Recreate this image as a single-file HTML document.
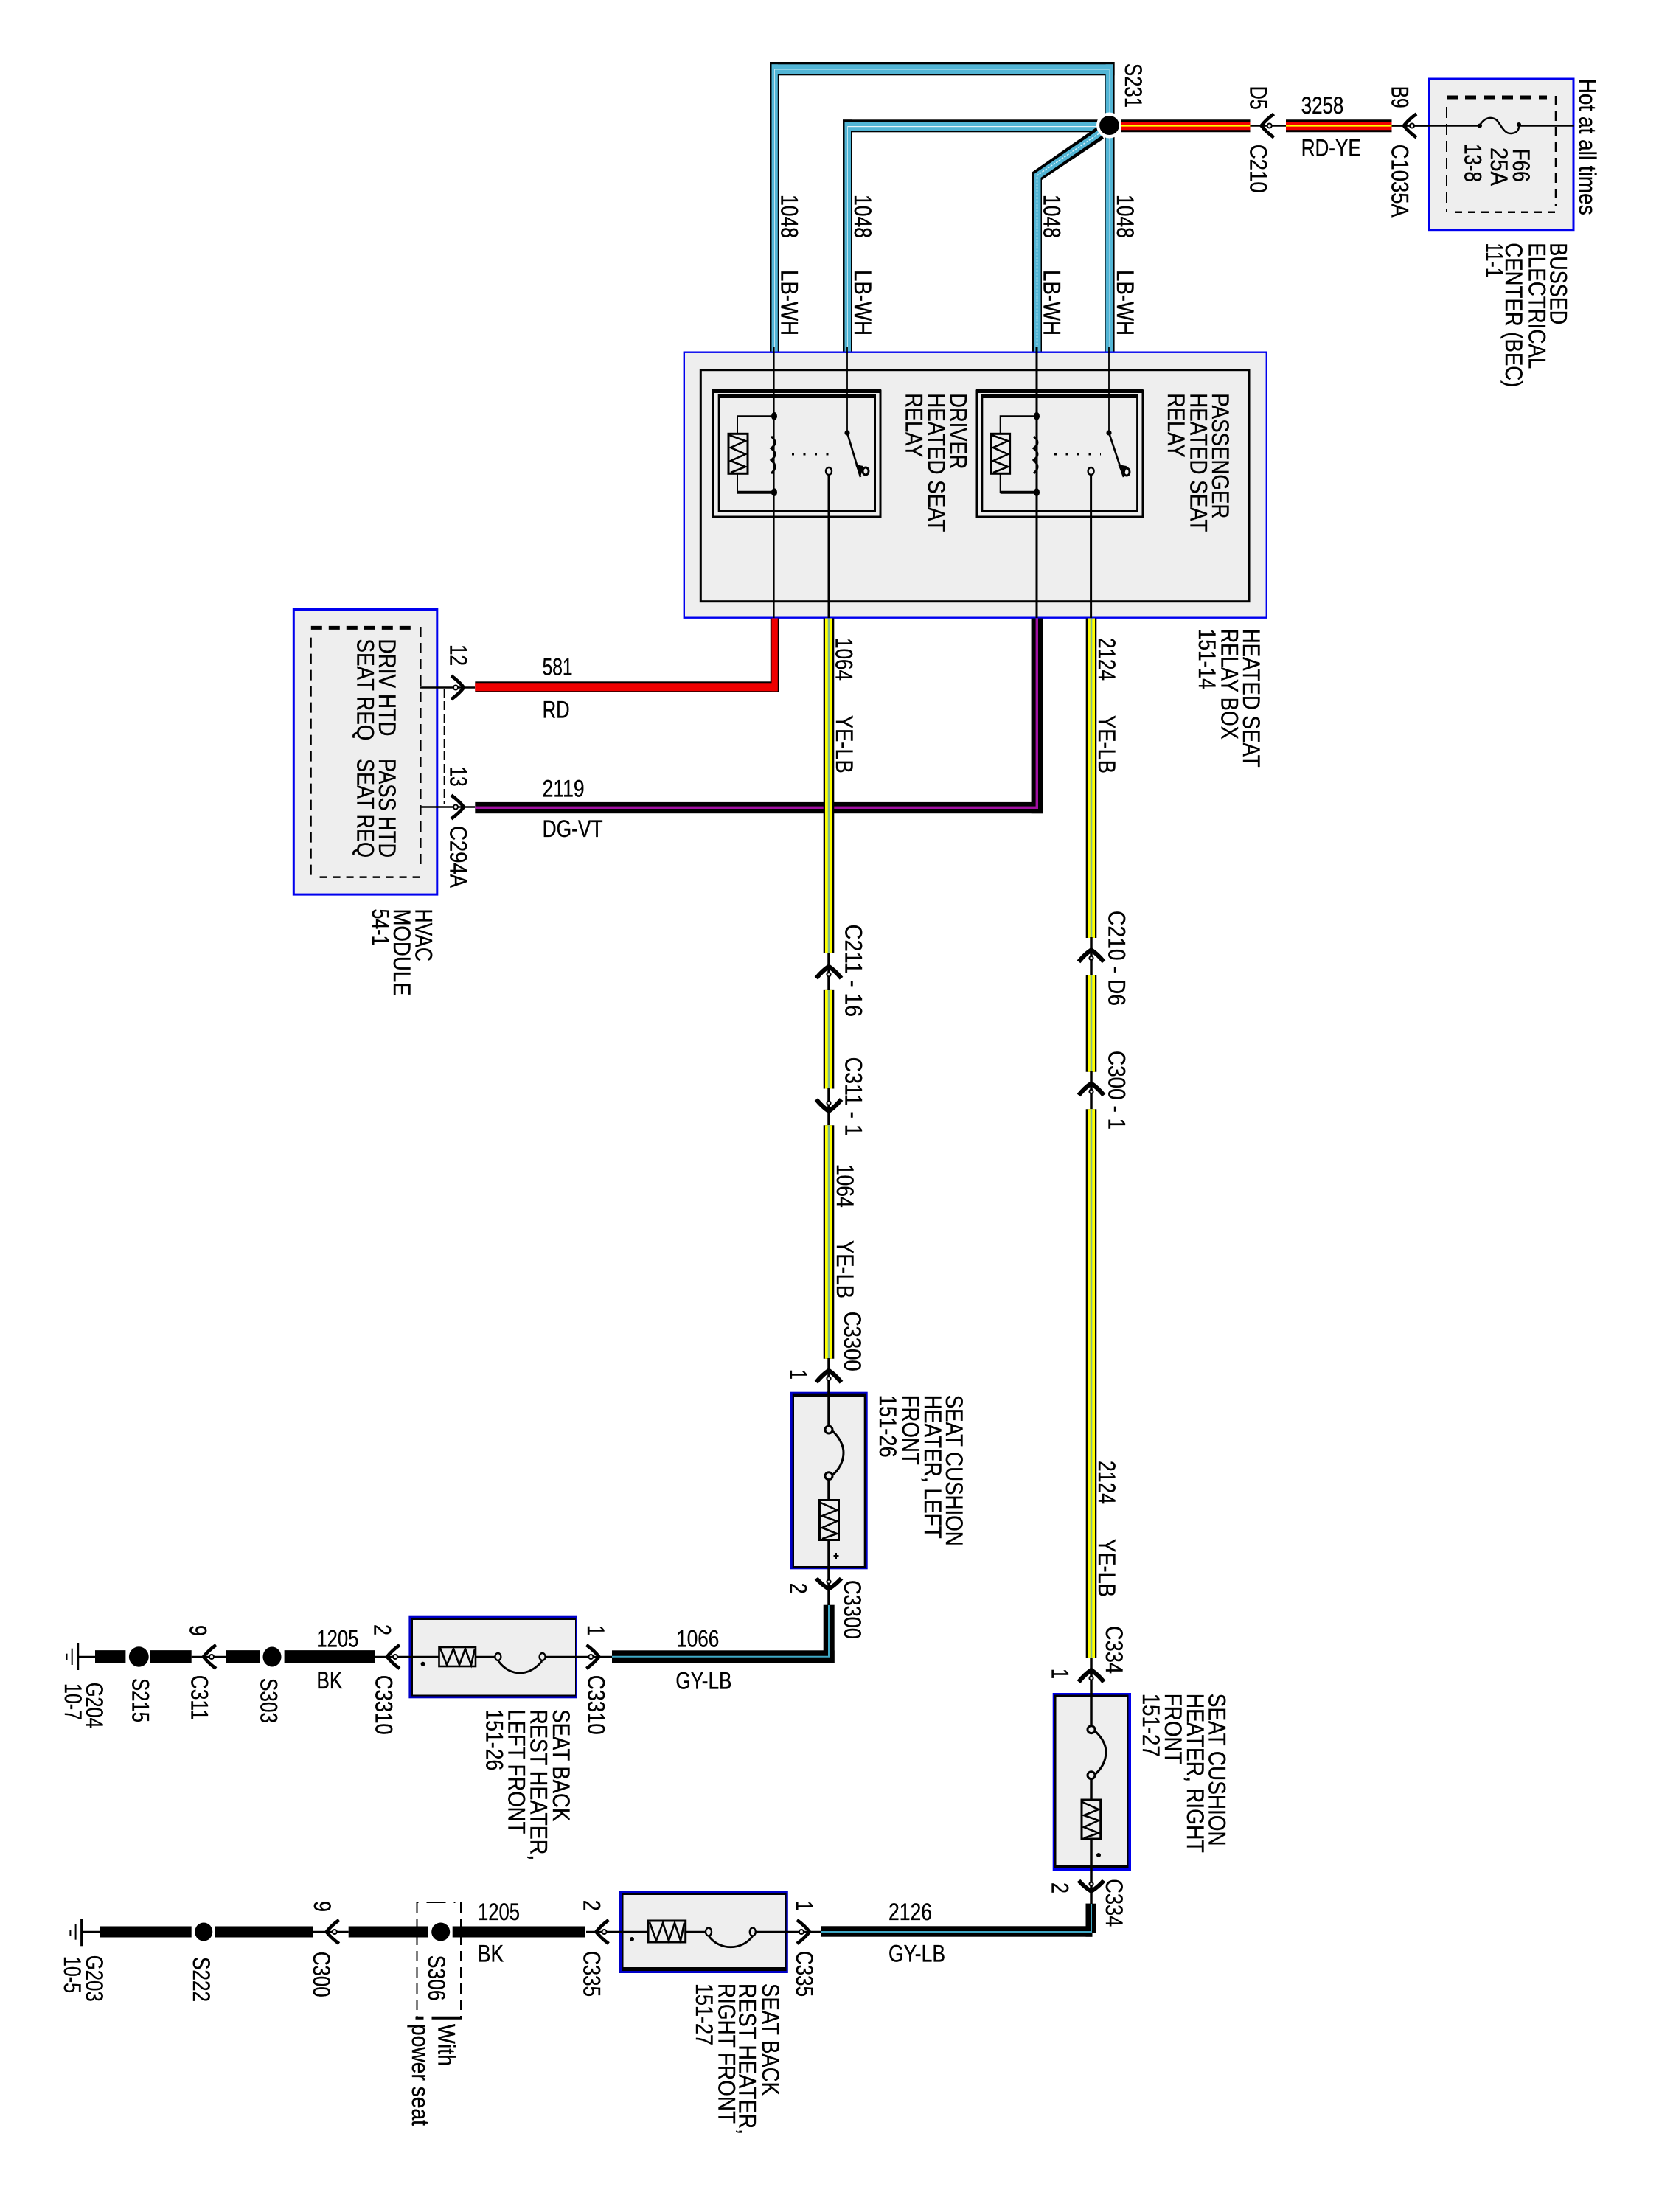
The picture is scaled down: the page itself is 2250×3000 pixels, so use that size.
<!DOCTYPE html>
<html><head><meta charset="utf-8"><title>Heated seat wiring diagram</title>
<style>
html,body{margin:0;padding:0;background:#fff}
svg{display:block}
text{font-family:"Liberation Sans",sans-serif;font-size:32px;fill:#000;stroke:#000;stroke-width:.35px}
.n{fill:none;stroke:#000}
</style></head><body>
<svg xmlns="http://www.w3.org/2000/svg" width="2250" height="3000" viewBox="0 0 2250 3000">
<defs>
<g id="cn"><path d="M17,-16 Q6,-8 0,0 Q6,8 17,16" fill="none" stroke="#000" stroke-width="4.6"/><circle cx="11" cy="0" r="3" fill="#eee" stroke="#000" stroke-width="2"/></g>
<g id="cv"><path d="M16,-17 Q6,-9 0,0 Q6,9 16,17" fill="none" stroke="#000" stroke-width="6"/><circle cx="11" cy="0" r="2.6" fill="#eee" stroke="#000" stroke-width="2"/></g>
</defs>
<rect width="2250" height="3000" fill="#fff"/>

<!-- LB-WH wires -->
<g>
<rect x="1044" y="84" width="467.6" height="18.3" fill="#000"/>
<rect x="1044" y="84" width="12.3" height="393" fill="#000"/>
<rect x="1498" y="84" width="13.6" height="393" fill="#000"/>
<rect x="1046.5" y="87.3" width="462.5" height="13.4" fill="#52b5d5"/>
<rect x="1046.5" y="87.3" width="8.3" height="390" fill="#52b5d5"/>
<rect x="1499.6" y="87.3" width="9.4" height="390" fill="#52b5d5"/>
<rect x="1050" y="93" width="454" height="1.4" fill="#e6f5fa"/>
<rect x="1050" y="93" width="1" height="384" fill="#bfe4f0"/>
<rect x="1504.5" y="93" width="1" height="384" fill="#bfe4f0"/>

<rect x="1143" y="162.3" width="350" height="17" fill="#000"/>
<rect x="1143" y="162.3" width="12.4" height="315" fill="#000"/>
<rect x="1145.5" y="165.5" width="350" height="12" fill="#52b5d5"/>
<rect x="1145.5" y="165.5" width="8.5" height="312" fill="#52b5d5"/>
<rect x="1149" y="171" width="345" height="1.2" fill="#e6f5fa"/>
<rect x="1149" y="171" width="1" height="306" fill="#bfe4f0"/>

<polygon points="1400,233.3 1488,172 1497,188 1413,244 1413,477 1400,477" fill="#000"/>
<polygon points="1402.5,236 1490,176 1494,184 1411.5,241 1411.5,477 1402.5,477" fill="#52b5d5"/>
<path d="M1406.5,477V238L1492,180" fill="none" stroke="#d8f0f8" stroke-width="1.5" stroke-dasharray="3 1.5"/>
</g>

<!-- splice -->
<circle cx="1504.5" cy="170" r="17.5" fill="#fff"/>
<ellipse cx="1504.5" cy="170" rx="13.4" ry="13" fill="#000"/>

<!-- 3258 wires -->
<g>
<path d="M1521,170.8H1695.5M1744,170.8H1887.5" stroke="#000" stroke-width="17" fill="none"/>
<path d="M1521,170.8H1695.5M1744,170.8H1887.5" stroke="#f00000" stroke-width="11" fill="none"/>
<path d="M1521,170.3H1695.5M1744,170.3H1887.5" stroke="#ffff00" stroke-width="2.6" fill="none"/>
<path d="M1695.5,170.5H1744M1887.5,170.5H2006.7M2060.3,170.5H2134.8" class="n" stroke-width="2.5"/>
</g>

<!-- BEC -->
<rect x="1938.5" y="107" width="195.5" height="204.7" fill="#eee" stroke="#0000ee" stroke-width="3"/>
<path d="M1962,132H2098" class="n" stroke-width="5" stroke-dasharray="15 10"/>
<path d="M2110,130V280" class="n" stroke-width="2.5" stroke-dasharray="13 8"/>
<path d="M1973,287.7H2111" class="n" stroke-width="2.5" stroke-dasharray="10 8"/>
<path d="M1962,145V288" class="n" stroke-width="2" stroke-dasharray="15 8"/>
<path d="M1887.5,170.5H2006.7M2060.3,170.5H2134.8" class="n" stroke-width="2.5"/>
<path d="M2006.7,170.5 C2012,160 2022,157 2030,163 C2036,170 2040,182 2050,181 C2058,180 2060,176 2060.3,170" class="n" stroke-width="2.5"/>
<circle cx="2007" cy="170.5" r="3" fill="#000"/><circle cx="2060" cy="169" r="3" fill="#000"/>
<use href="#cn" transform="translate(1710.7,170.5)"/>
<use href="#cn" transform="translate(1904,170.5)"/>

<!-- Relay box -->
<rect x="927.8" y="477.7" width="790" height="360" fill="#eee" stroke="#0000ee" stroke-width="2.4"/>
<rect x="950.3" y="501.7" width="743.7" height="314" fill="none" stroke="#000" stroke-width="3"/>
<!-- driver relay -->
<rect x="967" y="530" width="227" height="171" fill="none" stroke="#000" stroke-width="3"/>
<rect x="966" y="528" width="229" height="5" fill="#000"/>
<rect x="975" y="536" width="211.7" height="157.3" fill="none" stroke="#000" stroke-width="2.6"/>
<rect x="975" y="535" width="211.7" height="5" fill="#000"/>
<!-- passenger relay -->
<rect x="1325" y="530" width="225" height="171" fill="none" stroke="#000" stroke-width="3"/>
<rect x="1324" y="528" width="226.5" height="5" fill="#000"/>
<rect x="1332" y="536" width="210.4" height="157.3" fill="none" stroke="#000" stroke-width="2.6"/>
<rect x="1332" y="535" width="210.4" height="5" fill="#000"/>

<!-- driver relay internals -->
<path d="M1049.7,470V838" class="n" stroke-width="1.8"/>
<path d="M1149,470V586.7" class="n" stroke-width="1.8"/>
<path d="M1124,644V838" class="n" stroke-width="3"/>
<path d="M1049.7,564.3H1000V667.7H1049.7" class="n" stroke-width="2"/>
<path d="M1000,667.7H1049.7" class="n" stroke-width="4"/>
<rect x="988" y="588.3" width="26" height="54" fill="#eee" stroke="#000" stroke-width="3"/>
<polyline points="989,590 1011,598 991,607 1011,616 991,625 1011,633 991,641" class="n" stroke-width="2.6"/>
<path d="M1046,592 q10,8 0,16 q10,8 0,16 q10,9 0,18" class="n" stroke-width="3"/>
<ellipse cx="1050" cy="564.3" rx="4" ry="5.4" fill="#000"/><ellipse cx="1050" cy="667.7" rx="4" ry="5.4" fill="#000"/>
<path d="M1074,616H1137" class="n" stroke-width="3" stroke-dasharray="3 12.5"/>
<circle cx="1149" cy="587" r="3.6" fill="#000"/>
<path d="M1149,587L1167,647" class="n" stroke-width="2.6"/>
<ellipse cx="1124" cy="639" rx="4" ry="5" fill="#eee" stroke="#000" stroke-width="2.4"/>
<ellipse cx="1174" cy="639" rx="4" ry="5" fill="#eee" stroke="#000" stroke-width="3"/>
<path d="M1160,630L1167,647L1171,632Z" fill="#000"/>

<!-- passenger relay internals -->
<path d="M1406,470V838" class="n" stroke-width="3"/>
<path d="M1504,470V586.7" class="n" stroke-width="1.8"/>
<path d="M1479.6,644V838" class="n" stroke-width="3"/>
<path d="M1406,564.3H1356.7V667.7H1406" class="n" stroke-width="2"/>
<path d="M1356.7,667.7H1406" class="n" stroke-width="4"/>
<rect x="1344" y="588.3" width="25.6" height="54" fill="#eee" stroke="#000" stroke-width="3"/>
<polyline points="1345,590 1367,598 1347,607 1367,616 1347,625 1367,633 1347,641" class="n" stroke-width="2.6"/>
<path d="M1402,592 q10,8 0,16 q10,8 0,16 q10,9 0,18" class="n" stroke-width="3"/>
<ellipse cx="1406" cy="564.3" rx="4" ry="5.4" fill="#000"/><ellipse cx="1406" cy="667.7" rx="4" ry="5.4" fill="#000"/>
<path d="M1430,616H1493" class="n" stroke-width="3" stroke-dasharray="3 12.5"/>
<circle cx="1504" cy="587" r="3.6" fill="#000"/>
<path d="M1504,587L1524,647" class="n" stroke-width="2.6"/>
<ellipse cx="1479.6" cy="639" rx="4" ry="5" fill="#eee" stroke="#000" stroke-width="2.4"/>
<ellipse cx="1528" cy="640" rx="4" ry="5" fill="#eee" stroke="#000" stroke-width="3"/>
<path d="M1516,630L1524,647L1528,632Z" fill="#000"/>

<!-- HVAC -->
<rect x="398.3" y="826.5" width="194.5" height="386.6" fill="#eee" stroke="#0000ee" stroke-width="3"/>
<path d="M421.8,851.4H558.6" class="n" stroke-width="5" stroke-dasharray="15 9"/>
<path d="M570.3,850V1175" class="n" stroke-width="2.5" stroke-dasharray="14 8"/>
<path d="M433.6,1189.6H570" class="n" stroke-width="2.5" stroke-dasharray="10 8"/>
<path d="M421.8,864.6V1190" class="n" stroke-width="2" stroke-dasharray="14 8"/>
<path d="M602.4,934V1091" class="n" stroke-width="1.5" stroke-dasharray="12 5"/>
<path d="M570,932.5H644M570,1094.5H644" class="n" stroke-width="2.6"/>
<use href="#cn" transform="translate(629,932.5) rotate(180)"/>
<use href="#cn" transform="translate(629,1094.5) rotate(180)"/>

<!-- 581 RD -->
<rect x="644.3" y="924.3" width="411.7" height="14.3" fill="#000"/>
<rect x="1044.8" y="838.5" width="11.2" height="100" fill="#000"/>
<rect x="644.3" y="926.3" width="410" height="11" fill="#f00000"/>
<rect x="1046.5" y="838.5" width="8.3" height="98.8" fill="#f00000"/>

<!-- 2119 DG-VT -->
<rect x="644.3" y="1087.9" width="769.7" height="15.3" fill="#000"/>
<rect x="1398.6" y="838.5" width="15.4" height="264.7" fill="#000"/>
<rect x="644.3" y="1093.6" width="763.7" height="3.4" fill="#a010a0"/>
<rect x="1404.6" y="838.5" width="3.4" height="258.5" fill="#a010a0"/>

<!-- YE-LB wires -->
<path d="M1124,838.5V1292.6M1124,1341.9V1476.5M1124,1526.2V1842.7M1480,838.5V1272M1480,1322V1453.8M1480,1504.3V2248.3" stroke="#000" stroke-width="14.6" fill="none"/>
<path d="M1124,838.5V1292.6M1124,1341.9V1476.5M1124,1526.2V1842.7M1480,838.5V1272M1480,1322V1453.8M1480,1504.3V2248.3" stroke="#ffff00" stroke-width="10" fill="none"/>
<path d="M1124,838.5V1292.6M1124,1341.9V1476.5M1124,1526.2V1842.7M1480,838.5V1272M1480,1322V1453.8M1480,1504.3V2248.3" stroke="#7db98c" stroke-width="2.6" fill="none"/>
<path d="M1124,1292V1342M1124,1476V1526M1124,1842V1890M1480,1271V1322M1480,1453V1504M1480,2248V2297" class="n" stroke-width="3.5"/>
<use href="#cv" transform="translate(1124,1310.7) rotate(90)"/>
<use href="#cv" transform="translate(1124,1507) rotate(-90)"/>
<use href="#cv" transform="translate(1124,1858.7) rotate(90)"/>
<use href="#cv" transform="translate(1480,1288.4) rotate(90)"/>
<use href="#cv" transform="translate(1480,1469.4) rotate(90)"/>
<use href="#cv" transform="translate(1480,2265) rotate(90)"/>

<!-- seat cushion heater left -->
<rect x="1071.7" y="1887.7" width="105" height="240.6" fill="#0000c8"/>
<rect x="1074.7" y="1889.7" width="99.5" height="237" fill="#000"/>
<rect x="1077" y="1895" width="94.7" height="229" fill="#eee"/>
<path d="M1124,1887V1939M1124,2001.7V2177" class="n" stroke-width="3.5"/>
<path d="M1127,1939 C1138,1948 1144,1960 1144,1970 C1144,1982 1138,1994 1127,2002" class="n" stroke-width="3"/>
<circle cx="1124" cy="1939" r="5" fill="#eee" stroke="#000" stroke-width="3"/>
<circle cx="1124" cy="2001.7" r="5" fill="#eee" stroke="#000" stroke-width="3"/>
<rect x="1111.5" y="2034.5" width="26" height="54" fill="#eee" stroke="#000" stroke-width="3"/>
<polyline points="1113,2038 1135,2048 1115,2056 1135,2063 1115,2072 1135,2080 1115,2087" class="n" stroke-width="2.6"/>
<path d="M1134,2106V2114M1130.5,2110H1137.5" class="n" stroke-width="2"/>
<use href="#cv" transform="translate(1124,2155) rotate(-90) scale(.9,1)"/>

<!-- 1066 GY-LB -->
<rect x="830" y="2238.3" width="301.7" height="17.4" fill="#000"/>
<rect x="1116.7" y="2176.7" width="15" height="79" fill="#000"/>
<path d="M830,2246.7H1124V2177" class="n" style="stroke:#3fa9c6" stroke-width="2"/>

<!-- seat back heater left -->
<rect x="554.4" y="2191.7" width="228.1" height="111.6" fill="#0000c8"/>
<rect x="557.5" y="2194" width="223.5" height="106.5" fill="#000"/>
<rect x="560" y="2197" width="220" height="101.5" fill="#eee"/>
<path d="M508,2247H595M645,2247H675M736,2247H830" class="n" stroke-width="2.6"/>
<rect x="595.5" y="2234" width="49.5" height="26" fill="#eee" stroke="#000" stroke-width="2.6"/>
<polyline points="597,2235 606,2258 615,2236 623,2258 631,2236 639,2258 644,2236" class="n" stroke-width="2.6"/>
<path d="M676,2253 C684,2264 695,2269 705,2269 C716,2269 727,2263 735,2253" class="n" stroke-width="2.8"/>
<ellipse cx="675.4" cy="2247" rx="4" ry="5" fill="#eee" stroke="#000" stroke-width="2.4"/>
<ellipse cx="735.6" cy="2247" rx="4" ry="5" fill="#eee" stroke="#000" stroke-width="2.4"/>
<circle cx="573.6" cy="2256.7" r="3" fill="#000"/>
<use href="#cn" transform="translate(525,2247)"/>
<use href="#cn" transform="translate(812.4,2247) rotate(180)"/>

<!-- 1205 BK upper -->
<path d="M129,2247H170.4M204,2247H259.7M306.6,2247H352M385.6,2247H508.4" stroke="#000" stroke-width="17.7" fill="none"/>
<path d="M105.7,2247H129M259.7,2247H306.6" class="n" stroke-width="2.6"/>
<use href="#cn" transform="translate(276,2247)"/>
<ellipse cx="188.3" cy="2247" rx="13.4" ry="13.7" fill="#000"/>
<ellipse cx="369" cy="2247" rx="12.5" ry="13.5" fill="#000"/>
<path d="M105.7,2228V2265" class="n" stroke-width="3"/>
<path d="M97.7,2235.7V2258" class="n" stroke-width="2"/>
<path d="M90.5,2242.7V2251.7" class="n" stroke-width="2"/>

<!-- seat cushion heater right -->
<rect x="1427.7" y="2296" width="106.3" height="241.3" fill="#0000ee"/>
<rect x="1430" y="2298.5" width="100.5" height="235" fill="#000"/>
<rect x="1432.5" y="2302" width="96" height="228" fill="#eee"/>
<path d="M1480,2296V2345.7M1480,2407.7V2582" class="n" stroke-width="3.5"/>
<path d="M1483,2346 C1494,2355 1500,2366 1500,2376 C1500,2388 1494,2400 1483,2408" class="n" stroke-width="3"/>
<circle cx="1480" cy="2345.7" r="5" fill="#eee" stroke="#000" stroke-width="3"/>
<circle cx="1480" cy="2407.7" r="5" fill="#eee" stroke="#000" stroke-width="3"/>
<rect x="1467" y="2441" width="25.7" height="53" fill="#eee" stroke="#000" stroke-width="3"/>
<polyline points="1468,2444 1490,2454 1470,2462 1490,2469 1470,2478 1490,2486 1470,2493" class="n" stroke-width="2.6"/>
<circle cx="1490" cy="2516" r="3" fill="#000"/>
<use href="#cv" transform="translate(1480,2565) rotate(-90) scale(.9,1)"/>

<!-- 2126 GY-LB -->
<rect x="1113.8" y="2612.3" width="367.5" height="14.4" fill="#000"/>
<rect x="1472.5" y="2581.7" width="14.5" height="40" fill="#000"/>
<rect x="1472.5" y="2581.7" width="9" height="45" fill="#000"/>
<path d="M1113.8,2620H1480V2582" class="n" style="stroke:#3fa9c6" stroke-width="2"/>

<!-- seat back heater right -->
<rect x="840" y="2564.3" width="228.8" height="111.7" fill="#0000c8"/>
<rect x="843" y="2567" width="223.5" height="106" fill="#000"/>
<rect x="845.5" y="2570" width="219" height="98" fill="#eee"/>
<path d="M795,2620H879M930,2620H961M1021,2620H1114" class="n" stroke-width="2.6"/>
<rect x="879" y="2605" width="50.7" height="29" fill="#eee" stroke="#000" stroke-width="3"/>
<polyline points="881,2607 890,2632 899,2608 907,2632 915,2608 923,2632 928,2608" class="n" stroke-width="2.6"/>
<path d="M961.5,2626 C968,2635 979,2640.7 991,2640.7 C1003,2640.7 1014,2635 1020.5,2626" class="n" stroke-width="2.8"/>
<ellipse cx="961" cy="2620" rx="4" ry="5.4" fill="#eee" stroke="#000" stroke-width="2.4"/>
<ellipse cx="1020.8" cy="2620" rx="4" ry="5.4" fill="#eee" stroke="#000" stroke-width="2.4"/>
<circle cx="857" cy="2630" r="3" fill="#000"/>
<use href="#cn" transform="translate(808.5,2620)"/>
<use href="#cn" transform="translate(1097.9,2620) rotate(180)"/>

<!-- 1205 BK lower -->
<path d="M135.6,2620H259.7M291.9,2620H424.9M472.7,2620H581M613.7,2620H794" stroke="#000" stroke-width="15" fill="none"/>
<path d="M110.6,2620H135.6M424.9,2620H472.7" class="n" stroke-width="2.6"/>
<use href="#cn" transform="translate(442.8,2620)"/>
<ellipse cx="276.25" cy="2620" rx="12" ry="12.5" fill="#000"/>
<ellipse cx="597.7" cy="2620" rx="12.5" ry="12.5" fill="#000"/>
<path d="M110.6,2602.3V2639.3" class="n" stroke-width="3"/>
<path d="M102.6,2609.3V2630.7" class="n" stroke-width="2"/>
<path d="M95.4,2617.3V2625" class="n" stroke-width="2"/>
<path d="M565.5,2580H625" class="n" stroke-width="2" stroke-dasharray="2 11 26 11"/>
<path d="M565.5,2580V2735M625,2580V2735" class="n" stroke-width="2" stroke-dasharray="14 8"/>
<path d="M563.5,2736.7H626" class="n" stroke-width="4" stroke-dasharray="11 11 41"/>

<!-- Upright labels -->
<g>
<text x="1764.7" y="154" textLength="57.6" lengthAdjust="spacingAndGlyphs">3258</text>
<text x="1764.7" y="211.7" textLength="81" lengthAdjust="spacingAndGlyphs">RD-YE</text>
<text x="735.6" y="915.7" textLength="41" lengthAdjust="spacingAndGlyphs">581</text>
<text x="735.6" y="973.6" textLength="37" lengthAdjust="spacingAndGlyphs">RD</text>
<text x="735.6" y="1080.7" textLength="57" lengthAdjust="spacingAndGlyphs">2119</text>
<text x="735.6" y="1135" textLength="82" lengthAdjust="spacingAndGlyphs">DG-VT</text>
<text x="429.4" y="2233.3" textLength="57" lengthAdjust="spacingAndGlyphs">1205</text>
<text x="429.4" y="2290" textLength="35" lengthAdjust="spacingAndGlyphs">BK</text>
<text x="917.3" y="2233.3" textLength="58" lengthAdjust="spacingAndGlyphs">1066</text>
<text x="916.4" y="2290.7" textLength="76" lengthAdjust="spacingAndGlyphs">GY-LB</text>
<text x="648" y="2604" textLength="57" lengthAdjust="spacingAndGlyphs">1205</text>
<text x="648" y="2660.7" textLength="35" lengthAdjust="spacingAndGlyphs">BK</text>
<text x="1205" y="2604" textLength="59" lengthAdjust="spacingAndGlyphs">2126</text>
<text x="1205" y="2660.7" textLength="77" lengthAdjust="spacingAndGlyphs">GY-LB</text>
</g>

<!-- Rotated labels -->
<text transform="translate(1059.4,264) rotate(90)" textLength="59" lengthAdjust="spacingAndGlyphs">1048</text>
<text transform="translate(1159,264) rotate(90)" textLength="59" lengthAdjust="spacingAndGlyphs">1048</text>
<text transform="translate(1415.6,264) rotate(90)" textLength="59" lengthAdjust="spacingAndGlyphs">1048</text>
<text transform="translate(1515,264) rotate(90)" textLength="59" lengthAdjust="spacingAndGlyphs">1048</text>
<text transform="translate(1059.4,366) rotate(90)" textLength="89" lengthAdjust="spacingAndGlyphs">LB-WH</text>
<text transform="translate(1159,366) rotate(90)" textLength="89" lengthAdjust="spacingAndGlyphs">LB-WH</text>
<text transform="translate(1415.6,366) rotate(90)" textLength="89" lengthAdjust="spacingAndGlyphs">LB-WH</text>
<text transform="translate(1515,366) rotate(90)" textLength="89" lengthAdjust="spacingAndGlyphs">LB-WH</text>
<text transform="translate(1526,86) rotate(90)" textLength="60" lengthAdjust="spacingAndGlyphs">S231</text>
<text transform="translate(1695.5,116.7) rotate(90)" textLength="32" lengthAdjust="spacingAndGlyphs">D5</text>
<text transform="translate(1695.5,195.7) rotate(90)" textLength="66" lengthAdjust="spacingAndGlyphs">C210</text>
<text transform="translate(1887.5,116.7) rotate(90)" textLength="30" lengthAdjust="spacingAndGlyphs">B9</text>
<text transform="translate(1887.5,195.7) rotate(90)" textLength="99" lengthAdjust="spacingAndGlyphs">C1035A</text>
<text transform="translate(2052,201.7) rotate(90)" textLength="45" lengthAdjust="spacingAndGlyphs">F66</text>
<text transform="translate(2022,200) rotate(90)" textLength="52" lengthAdjust="spacingAndGlyphs">25A</text>
<text transform="translate(1986.6,195) rotate(90)" textLength="52" lengthAdjust="spacingAndGlyphs">13-8</text>
<text transform="translate(2142,106.7) rotate(90)" textLength="185" lengthAdjust="spacingAndGlyphs">Hot at all times</text>
<text transform="translate(2102.7,329.3) rotate(90)" textLength="111" lengthAdjust="spacingAndGlyphs">BUSSED</text>
<text transform="translate(2073.7,329.3) rotate(90)" textLength="171" lengthAdjust="spacingAndGlyphs">ELECTRICAL</text>
<text transform="translate(2042,329.3) rotate(90)" textLength="196" lengthAdjust="spacingAndGlyphs">CENTER (BEC)</text>
<text transform="translate(2015.6,329.3) rotate(90)" textLength="47" lengthAdjust="spacingAndGlyphs">11-1</text>

<text transform="translate(1288.7,533.3) rotate(90)" textLength="103" lengthAdjust="spacingAndGlyphs">DRIVER</text>
<text transform="translate(1259,533.3) rotate(90)" textLength="188" lengthAdjust="spacingAndGlyphs">HEATED SEAT</text>
<text transform="translate(1228.6,533.3) rotate(90)" textLength="87" lengthAdjust="spacingAndGlyphs">RELAY</text>
<text transform="translate(1644,533.3) rotate(90)" textLength="170" lengthAdjust="spacingAndGlyphs">PASSENGER</text>
<text transform="translate(1614.5,533.3) rotate(90)" textLength="188" lengthAdjust="spacingAndGlyphs">HEATED SEAT</text>
<text transform="translate(1584,533.3) rotate(90)" textLength="87" lengthAdjust="spacingAndGlyphs">RELAY</text>

<text transform="translate(1686,852.7) rotate(90)" textLength="188" lengthAdjust="spacingAndGlyphs">HEATED SEAT</text>
<text transform="translate(1656.4,852.7) rotate(90)" textLength="150" lengthAdjust="spacingAndGlyphs">RELAY BOX</text>
<text transform="translate(1626,852.7) rotate(90)" textLength="82" lengthAdjust="spacingAndGlyphs">151-14</text>

<text transform="translate(1133.4,865) rotate(90)" textLength="58" lengthAdjust="spacingAndGlyphs">1064</text>
<text transform="translate(1134,970) rotate(90)" textLength="78.6" lengthAdjust="spacingAndGlyphs">YE-LB</text>
<text transform="translate(1490,865) rotate(90)" textLength="58" lengthAdjust="spacingAndGlyphs">2124</text>
<text transform="translate(1490,970) rotate(90)" textLength="79" lengthAdjust="spacingAndGlyphs">YE-LB</text>
<text transform="translate(1146.7,1253.5) rotate(90)" textLength="125.5" lengthAdjust="spacingAndGlyphs">C211 - 16</text>
<text transform="translate(1146.7,1433.6) rotate(90)" textLength="107" lengthAdjust="spacingAndGlyphs">C311 - 1</text>
<text transform="translate(1135,1578.8) rotate(90)" textLength="59" lengthAdjust="spacingAndGlyphs">1064</text>
<text transform="translate(1135,1682) rotate(90)" textLength="79" lengthAdjust="spacingAndGlyphs">YE-LB</text>
<text transform="translate(1145,1778.7) rotate(90)" textLength="81" lengthAdjust="spacingAndGlyphs">C3300</text>
<text transform="translate(1503.3,1235) rotate(90)" textLength="129" lengthAdjust="spacingAndGlyphs">C210 - D6</text>
<text transform="translate(1503.3,1425) rotate(90)" textLength="107" lengthAdjust="spacingAndGlyphs">C300 - 1</text>
<text transform="translate(1490,1981) rotate(90)" textLength="59" lengthAdjust="spacingAndGlyphs">2124</text>
<text transform="translate(1490,2087) rotate(90)" textLength="79" lengthAdjust="spacingAndGlyphs">YE-LB</text>

<text transform="translate(514,866.4) rotate(90)" textLength="132" lengthAdjust="spacingAndGlyphs">DRIV HTD</text>
<text transform="translate(484.6,866.4) rotate(90)" textLength="138" lengthAdjust="spacingAndGlyphs">SEAT REQ</text>
<text transform="translate(514,1029) rotate(90)" textLength="134" lengthAdjust="spacingAndGlyphs">PASS HTD</text>
<text transform="translate(484.6,1029) rotate(90)" textLength="134" lengthAdjust="spacingAndGlyphs">SEAT REQ</text>
<text transform="translate(610.6,874) rotate(90)" textLength="29" lengthAdjust="spacingAndGlyphs">12</text>
<text transform="translate(610.6,1039.6) rotate(90)" textLength="27" lengthAdjust="spacingAndGlyphs">13</text>
<text transform="translate(610.6,1120) rotate(90)" textLength="84" lengthAdjust="spacingAndGlyphs">C294A</text>
<text transform="translate(563.7,1232.5) rotate(90)" textLength="71.5" lengthAdjust="spacingAndGlyphs">HVAC</text>
<text transform="translate(534,1232.5) rotate(90)" textLength="118" lengthAdjust="spacingAndGlyphs">MODULE</text>
<text transform="translate(505,1232.5) rotate(90)" textLength="50" lengthAdjust="spacingAndGlyphs">54-1</text>

<text transform="translate(1071.7,1857) rotate(90)" textLength="14" lengthAdjust="spacingAndGlyphs">1</text>
<text transform="translate(1071.7,2146.7) rotate(90)" textLength="15" lengthAdjust="spacingAndGlyphs">2</text>
<text transform="translate(1145,2143) rotate(90)" textLength="80" lengthAdjust="spacingAndGlyphs">C3300</text>
<text transform="translate(1283,1891.7) rotate(90)" textLength="205" lengthAdjust="spacingAndGlyphs">SEAT CUSHION</text>
<text transform="translate(1254,1891.7) rotate(90)" textLength="195" lengthAdjust="spacingAndGlyphs">HEATER, LEFT</text>
<text transform="translate(1224,1891.7) rotate(90)" textLength="95" lengthAdjust="spacingAndGlyphs">FRONT</text>
<text transform="translate(1193,1891.7) rotate(90)" textLength="85" lengthAdjust="spacingAndGlyphs">151-26</text>

<text transform="translate(116.9,2281.7) rotate(90)" textLength="62" lengthAdjust="spacingAndGlyphs">G204</text>
<text transform="translate(87.9,2283) rotate(90)" textLength="50" lengthAdjust="spacingAndGlyphs">10-7</text>
<text transform="translate(179.4,2276) rotate(90)" textLength="60" lengthAdjust="spacingAndGlyphs">S215</text>
<text transform="translate(259.7,2271.7) rotate(90)" textLength="61" lengthAdjust="spacingAndGlyphs">C311</text>
<text transform="translate(257.5,2204) rotate(90)" textLength="15" lengthAdjust="spacingAndGlyphs">9</text>
<text transform="translate(353.5,2276) rotate(90)" textLength="61" lengthAdjust="spacingAndGlyphs">S303</text>
<text transform="translate(507.5,2203) rotate(90)" textLength="15" lengthAdjust="spacingAndGlyphs">2</text>
<text transform="translate(509.7,2271.7) rotate(90)" textLength="81" lengthAdjust="spacingAndGlyphs">C3310</text>
<text transform="translate(796.8,2204) rotate(90)" textLength="14" lengthAdjust="spacingAndGlyphs">1</text>
<text transform="translate(797.7,2271.7) rotate(90)" textLength="81" lengthAdjust="spacingAndGlyphs">C3310</text>
<text transform="translate(750,2318.3) rotate(90)" textLength="152" lengthAdjust="spacingAndGlyphs">SEAT BACK</text>
<text transform="translate(719.6,2318.3) rotate(90)" textLength="205" lengthAdjust="spacingAndGlyphs">REST HEATER,</text>
<text transform="translate(689.6,2318.3) rotate(90)" textLength="169" lengthAdjust="spacingAndGlyphs">LEFT FRONT</text>
<text transform="translate(659.7,2318.3) rotate(90)" textLength="83" lengthAdjust="spacingAndGlyphs">151-26</text>

<text transform="translate(116.9,2651.7) rotate(90)" textLength="63" lengthAdjust="spacingAndGlyphs">G203</text>
<text transform="translate(87,2653) rotate(90)" textLength="50" lengthAdjust="spacingAndGlyphs">10-5</text>
<text transform="translate(262,2654) rotate(90)" textLength="61" lengthAdjust="spacingAndGlyphs">S222</text>
<text transform="translate(425.8,2578) rotate(90)" textLength="15" lengthAdjust="spacingAndGlyphs">9</text>
<text transform="translate(425,2646.7) rotate(90)" textLength="62" lengthAdjust="spacingAndGlyphs">C300</text>
<text transform="translate(581,2651.7) rotate(90)" textLength="62" lengthAdjust="spacingAndGlyphs">S306</text>
<text transform="translate(594.5,2745) rotate(90)" textLength="57" lengthAdjust="spacingAndGlyphs">With</text>
<text transform="translate(558.8,2745) rotate(90)" textLength="138" lengthAdjust="spacingAndGlyphs">power seat</text>

<text transform="translate(791.5,2576.7) rotate(90)" textLength="15" lengthAdjust="spacingAndGlyphs">2</text>
<text transform="translate(791.5,2646) rotate(90)" textLength="62" lengthAdjust="spacingAndGlyphs">C335</text>
<text transform="translate(1080,2578) rotate(90)" textLength="14" lengthAdjust="spacingAndGlyphs">1</text>
<text transform="translate(1080,2646) rotate(90)" textLength="62" lengthAdjust="spacingAndGlyphs">C335</text>
<text transform="translate(1033.9,2690) rotate(90)" textLength="152" lengthAdjust="spacingAndGlyphs">SEAT BACK</text>
<text transform="translate(1002.4,2690) rotate(90)" textLength="205" lengthAdjust="spacingAndGlyphs">REST HEATER,</text>
<text transform="translate(974.7,2690) rotate(90)" textLength="190" lengthAdjust="spacingAndGlyphs">RIGHT FRONT</text>
<text transform="translate(944.2,2690) rotate(90)" textLength="84" lengthAdjust="spacingAndGlyphs">151-27</text>

<text transform="translate(1500,2205) rotate(90)" textLength="65" lengthAdjust="spacingAndGlyphs">C334</text>
<text transform="translate(1426.7,2263) rotate(90)" textLength="14" lengthAdjust="spacingAndGlyphs">1</text>
<text transform="translate(1426.7,2553) rotate(90)" textLength="15" lengthAdjust="spacingAndGlyphs">2</text>
<text transform="translate(1500,2548.3) rotate(90)" textLength="65" lengthAdjust="spacingAndGlyphs">C334</text>
<text transform="translate(1639.3,2296.7) rotate(90)" textLength="207" lengthAdjust="spacingAndGlyphs">SEAT CUSHION</text>
<text transform="translate(1610,2296.7) rotate(90)" textLength="216" lengthAdjust="spacingAndGlyphs">HEATER, RIGHT</text>
<text transform="translate(1580,2296.7) rotate(90)" textLength="96" lengthAdjust="spacingAndGlyphs">FRONT</text>
<text transform="translate(1550,2296.7) rotate(90)" textLength="86" lengthAdjust="spacingAndGlyphs">151-27</text>
</svg>
</body></html>
